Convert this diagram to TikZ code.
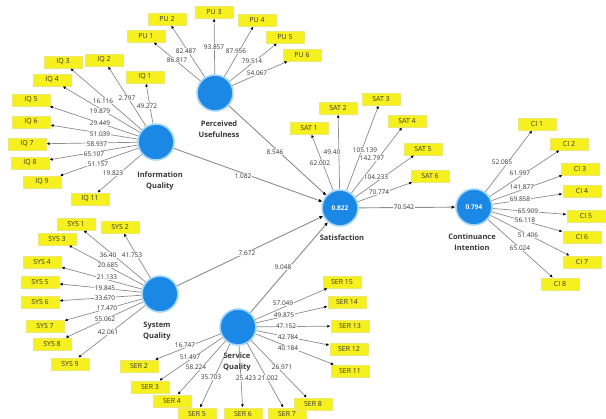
\documentclass[tikz,border=0pt]{standalone}
\usepackage{fontspec}
\setmainfont{Open Sans}
\usetikzlibrary{arrows.meta}
\definecolor{lvblue}{RGB}{28,136,230}
\definecolor{halo}{RGB}{165,215,250}
\definecolor{indy}{RGB}{246,240,30}
\definecolor{lnk}{RGB}{140,140,140}
\definecolor{txt}{RGB}{55,55,55}
\tikzset{
  lv/.style={circle,fill=lvblue,draw=halo,line width=1.6pt,minimum size=36pt,inner sep=0pt,
    text=white,font=\fontsize{6.5}{7}\selectfont\bfseries},
  ind/.style={rectangle,fill=indy,draw=indy!90!black!60,line width=0.3pt,minimum width=38pt,
    minimum height=12pt,inner sep=0pt,text=txt,font=\fontsize{7}{8}\selectfont},
  ld/.style={draw=lnk,line width=0.7pt,-{Latex[length=3pt,width=3pt,color=black]},shorten >=0.5pt},
  sd/.style={draw=lnk,line width=0.9pt,-{Latex[length=3.5pt,width=3.5pt,color=black]}},
  num/.style={fill=white,fill opacity=0.85,text opacity=1,inner sep=0.4pt,text=txt,
    font=\fontsize{6.5}{7}\selectfont},
  lvl/.style={align=center,text=txt,inner sep=0pt,font=\fontsize{7.5}{11}\selectfont\bfseries}
}
\newcommand\drawinds[2]{%
  \foreach \n/\x/\y/\t/\lx/\ly/\l in #2 {
    \node[ind] (\n) at (\x,\y) {\t};
    \draw[ld] (#1) -- (\n);
  }}
\newcommand\drawnums[1]{%
  \foreach \n/\x/\y/\t/\lx/\ly/\l in #1 {
    \node[num] (l\n) at (\lx,\ly) {\l};
  }}
\def\pulist{pu1/146/36/PU 1/177/60/86.817, pu2/167/19/PU 2/186/51/82.487, pu3/214/12/PU 3/214/47/93.857,
 pu4/257/20/PU 4/236/51/87.956, pu5/285/37/PU 5/252/61/79.514, pu6/302/55/PU 6/257/73/54.067}
\def\iqlist{iq1/145/77/IQ 1/147/106/49.272, iq2/104/60/IQ 2/127/98/2.797, iq3/63/62/IQ 3/103/101/16.116,
 iq4/52/80/IQ 4/100/111/19.879, iq5/31/100/IQ 5/100/123/29.449, iq6/31/122/IQ 6/100/134/51.039,
 iq7/27/144/IQ 7/97/144/58.937, iq8/30/163/IQ 8/94/154/65.107, iq9/42/182/IQ 9/98/164/51.157,
 iq11/90/199/IQ 11/113/173/19.823}
\def\syslist{sys1/76/224/SYS 1/108/255/36.40, sys2/120/227/SYS 2/132/255/41.753, sys3/57/239/SYS 3/108/265/20.685,
 sys4/42/262/SYS 4/107/277/21.133, sys5/40/282/SYS 5/105/288/19.845, sys6/40/302/SYS 6/105/298/33.670,
 sys7/45/326/SYS 7/107/308/17.470, sys8/52/344/SYS 8/105/319/55.062, sys9/70/364/SYS 9/108/332/42.061}
\def\serlist{ser2/139/366/SER 2/185/345/16.747, ser3/150/387/SER 3/190/357/51.497, ser4/172/401/SER 4/196/367/58.224,
 ser5/197/414/SER 5/211/377/35.703, ser6/243/414/SER 6/246/378/25.423, ser7/287/414/SER 7/268/378/21.002,
 ser8/313/404/SER 8/282/367/26.971, ser11/350/371/SER 11/288/348/40.184, ser12/349/349/SER 12/288/337/42.784,
 ser13/350/326/SER 13/286/326/47.152, ser14/347/302/SER 14/284/315/49.875, ser15/342/282/SER 15/283/303/57.049}
\def\satlist{sat1/309/128/SAT 1/320/163/62.002, sat2/338/108/SAT 2/332/152/49.40, sat3/381/99/SAT 3/365/150/105.139,
 sat4/407/121/SAT 4/372/158/142.797, sat5/423/149/SAT 5/376/177/104.233, sat6/430/176/SAT 6/379/192/70.774}
\def\cilist{ci1/537/124/CI 1/502/162/52.085, ci2/569/144/CI 2/520/173/61.997, ci3/580/169/CI 3/522/187/141.877,
 ci4/582/191/CI 4/520/199/69.858, ci5/586/216/CI 5/528/211/65.909, ci6/582/237/CI 6/525/220/56.118,
 ci7/582/262/CI 7/528/235/51.406, ci8/560/284/CI 8/520/248/65.024}
\begin{document}
\begin{tikzpicture}[x=1pt,y=-1pt]
\useasboundingbox[fill=white] (0,0) rectangle (606,419);
% latent variables
\node[lv] (pu) at (215,93) {};
\node[lv] (iq) at (156,142) {};
\node[lv] (sat) at (340,208) {0.822};
\node[lv] (ci) at (474,207) {0.794};
\node[lv] (sys) at (160,294) {};
\node[lv] (ser) at (238,327) {};
\node[lvl] (pul) at (219,129) {Perceived\\Usefulness};
\node[lvl] (iql) at (160,181) {Information\\Quality};
\node[lvl] (satl) at (342,238) {Satisfaction};
\node[lvl] (cil) at (472,242) {Continuance\\Intention};
\node[lvl] (sysl) at (157,331) {System\\Quality};
\node[lvl] (serl) at (237,362) {Service\\Quality};
% structural paths
\draw[sd] (pu) -- (sat);
\draw[sd] (iq) -- (sat);
\draw[sd] (sys) -- (sat);
\draw[sd] (ser) -- (sat);
\draw[sd] (sat) -- (ci);
\node[num] (s1) at (275,152) {8.546};
\node[num] (s2) at (243,176) {1.082};
\node[num] (s3) at (247,253) {7.672};
\node[num] (s4) at (283,267) {9.048};
\node[num] (s5) at (404,207) {70.542};
% indicators
\drawinds{pu}{\pulist}
\drawinds{iq}{\iqlist}
\drawinds{sys}{\syslist}
\drawinds{ser}{\serlist}
\drawinds{sat}{\satlist}
\drawinds{ci}{\cilist}
\drawnums{\pulist}
\drawnums{\iqlist}
\drawnums{\syslist}
\drawnums{\serlist}
\drawnums{\satlist}
\drawnums{\cilist}
\end{tikzpicture}
\end{document}
